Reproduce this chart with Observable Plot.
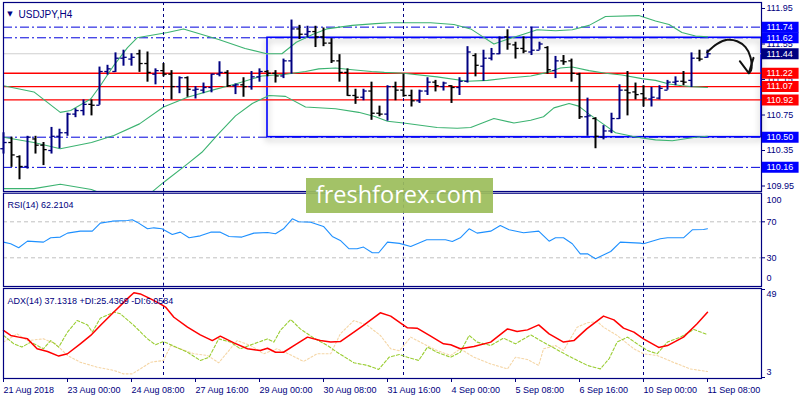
<!DOCTYPE html>
<html><head><meta charset="utf-8">
<script src="https://cdn.jsdelivr.net/npm/d3@7"></script>
<script src="https://cdn.jsdelivr.net/npm/@observablehq/plot@0.6"></script>
<style>
html,body{margin:0;padding:0;background:#fff;}
#chart{position:relative;width:800px;height:400px;overflow:hidden;background:#fff;}
#chart svg{position:absolute;left:0;}
#wm{position:absolute;left:305.7px;top:177.7px;width:187px;height:35px;background:rgba(156,189,91,0.93);color:#fff;
 font-family:"Open Sans",sans-serif;font-size:23.5px;line-height:33px;text-align:center;white-space:nowrap;}
</style></head><body><div id="chart"></div><script>
// ---------- data ----------
const symbolTitle = "USDJPY,H4";
const rsiTitle = "RSI(14) 62.2104";
const adxTitle = "ADX(14) 37.1318 +DI:25.4369 -DI:6.0584";
const watermark = "freshforex.com";

const open  = [110.37,110.44,110.28,110.17,110.48,110.41,110.35,110.51,110.55,110.76,110.80,110.87,110.86,111.24,111.24,111.39,111.38,111.44,111.33,111.21,111.25,111.21,111.07,111.17,111.03,111.03,111.06,111.21,111.23,111.08,111.09,111.07,111.18,111.24,111.22,111.19,111.36,111.72,111.66,111.69,111.63,111.56,111.36,111.23,110.97,110.95,111.02,110.77,110.76,111.07,111.03,110.97,110.91,111.02,111.12,111.07,111.08,111.06,111.13,111.42,111.30,111.39,111.44,111.63,111.54,111.50,111.46,111.48,111.51,111.25,111.36,111.36,111.21,110.73,110.71,110.50,110.57,110.71,111.03,111.01,110.99,110.93,110.94,111.03,111.12,111.13,111.14,111.39,111.40];
const high  = [110.55,110.50,110.29,110.51,110.51,110.44,110.61,110.59,110.77,110.82,110.92,110.92,111.29,111.31,111.45,111.48,111.44,111.48,111.46,111.27,111.33,111.25,111.18,111.18,111.07,111.11,111.21,111.35,111.25,111.10,111.17,111.24,111.27,111.25,111.25,111.38,111.82,111.76,111.75,111.75,111.73,111.61,111.43,111.27,111.04,111.04,111.12,110.85,111.08,111.12,111.21,111.03,111.03,111.17,111.14,111.12,111.08,111.17,111.52,111.44,111.48,111.50,111.63,111.71,111.57,111.63,111.74,111.57,111.52,111.41,111.42,111.38,111.22,110.94,110.72,110.63,110.77,111.09,111.24,111.11,111.08,111.06,111.08,111.14,111.18,111.24,111.45,111.48,111.48];
const low   = [110.31,110.16,110.02,110.14,110.31,110.18,110.31,110.37,110.51,110.72,110.74,110.74,110.86,111.20,111.23,111.30,111.30,111.23,111.12,111.09,111.18,110.92,110.99,110.95,110.93,110.99,111.00,111.18,111.06,110.98,110.95,111.03,111.12,111.18,111.11,111.16,111.21,111.60,111.62,111.51,111.52,111.33,111.12,110.96,110.87,110.91,110.69,110.73,110.68,110.91,110.95,110.84,110.88,110.97,111.01,111.02,110.88,110.97,111.11,111.18,111.13,111.36,111.43,111.48,111.38,111.44,111.42,111.48,111.21,111.16,111.31,111.12,110.70,110.51,110.37,110.47,110.54,110.70,110.74,110.92,110.84,110.84,110.92,111.03,111.08,111.08,111.06,111.35,111.39];
const close = [110.44,110.30,110.17,110.50,110.41,110.36,110.51,110.55,110.76,110.80,110.87,110.86,111.24,111.27,111.39,111.40,111.40,111.33,111.23,111.25,111.21,111.07,111.17,111.04,111.04,111.06,111.21,111.23,111.08,111.09,111.07,111.18,111.24,111.22,111.19,111.36,111.72,111.66,111.69,111.63,111.56,111.36,111.23,110.97,110.95,111.02,110.77,110.76,111.07,111.03,110.97,110.91,111.02,111.12,111.08,111.11,111.06,111.13,111.46,111.31,111.39,111.44,111.62,111.55,111.50,111.47,111.48,111.55,111.26,111.36,111.35,111.22,110.73,110.74,110.51,110.57,110.71,111.03,111.00,110.98,110.94,110.95,111.05,111.12,111.13,111.12,111.39,111.38,111.44];

// Bollinger bands: [bar, price]
const bbUpper = [[0,111.08],[3.8,111.01],[7.1,110.78],[8.4,110.80],[10.9,110.93],[12.1,111.08],[13.8,111.31],[15.5,111.51],[16.7,111.62],[20.5,111.68],[22.5,111.72],[26.9,111.60],[30.2,111.50],[32.9,111.44],[34.8,111.44],[36.6,111.57],[38.7,111.66],[40.4,111.72],[43.6,111.76],[46.5,111.78],[48.4,111.79],[53.4,111.79],[56.3,111.77],[58.4,111.72],[59.6,111.65],[61.3,111.55],[62.9,111.60],[65,111.66],[66.7,111.71],[69,111.70],[71.1,111.71],[73.2,111.76],[75.25,111.86],[79.4,111.87],[81.5,111.81],[83.2,111.77],[84.8,111.68],[86.5,111.64],[88,111.63]];
const bbMiddle = [[0,110.50],[3.8,110.44],[7.1,110.37],[11,110.44],[13.8,110.52],[17,110.65],[20,110.84],[23,110.95],[26.1,111.03],[29,111.10],[32.3,111.19],[35.25,111.21],[37.75,111.24],[39.4,111.27],[41.5,111.28],[43.6,111.26],[46,111.24],[47.6,111.23],[50,111.22],[54.2,111.18],[58,111.13],[60.5,111.14],[63.4,111.17],[65.9,111.19],[68,111.23],[69.6,111.28],[71.1,111.29],[73.2,111.25],[75.25,111.22],[77.3,111.20],[79.8,111.16],[81.5,111.14],[83.2,111.10],[84.8,111.08],[86,111.07],[88,111.06]];
const bbLower = [[0,109.92],[3.8,109.92],[7.1,109.97],[11,109.91],[13,109.84],[18,109.84],[18.8,109.90],[20,109.99],[23,110.20],[24.8,110.33],[26.9,110.54],[29,110.74],[31.1,110.88],[33.2,110.97],[35.25,110.96],[37.75,110.84],[41.5,110.82],[44.4,110.78],[46.5,110.73],[48,110.68],[50,110.66],[54.2,110.61],[56.7,110.60],[58.4,110.61],[61.3,110.71],[63.8,110.66],[65.9,110.69],[67.5,110.73],[68.8,110.83],[70.7,110.88],[71.9,110.85],[73.2,110.76],[75.25,110.63],[76.5,110.55],[78.6,110.51],[79.8,110.49],[81.5,110.47],[83.6,110.46],[86.5,110.50],[88,110.51]];

// horizontal levels and box
const dashDotLevels = [111.74, 111.62, 110.50, 110.16];
const redLevels = [111.22, 111.07, 110.92];
const bidLevel = [111.44];
const boxes = [{start: 33, low: 110.50, high: 111.62}];
const badgeLevels = [111.74, 111.62, 111.44, 111.22, 111.07, 110.92, 110.50, 110.16];
const priceTicks = [111.95, 111.55, 111.15, 110.75, 110.35, 109.95];
const weekSeparators = [20, 50, 80];

// hand drawn arrow [bar, price]
const arrowPath = [[87.96,111.457],[89.21,111.552],[90.46,111.597],[91.71,111.581],[92.75,111.514],[93.375,111.401],[93.44,111.251],[93.16,111.221]];
const arrowHead = [[92.04,111.356],[93.16,111.221],[93.75,111.394]];

// RSI(14): [bar, value]
const rsi = [[0,47.4],[0.9,45.6],[1.9,41.1],[3,48.5],[5,47.4],[5.9,52.2],[7.1,53.0],[8,57.4],[9.6,59.6],[11.1,59.6],[12.1,68.5],[13.6,70.7],[15.5,71.5],[16.1,72.2],[16.7,69.6],[18,62.2],[18.8,63.3],[19.8,62.2],[21.1,55.9],[22.1,58.5],[23.2,52.2],[24.6,54.4],[25.9,58.5],[27.1,58.5],[28.2,53.7],[29.8,53.0],[31.3,57.4],[33,58.1],[34,56.7],[35,62.2],[36.1,73.3],[36.9,70.0],[38.4,69.6],[40,64.8],[41.1,53.7],[42.1,49.3],[43.2,40.0],[44.2,40.0],[45,41.9],[46.1,35.6],[46.9,35.6],[48,47.4],[49.5,46.0],[50.9,42.6],[52.9,50.0],[55.25,50.0],[56.1,48.1],[57.1,52.2],[58.2,62.2],[59.2,57.4],[60.9,59.6],[62.1,65.9],[63.2,61.1],[65,57.8],[66.9,59.6],[68.2,48.5],[69,52.2],[70,52.2],[71.1,45.6],[72.1,34.4],[73,34.4],[74,28.9],[75.9,37.0],[77.1,47.4],[79.6,46.3],[80,45.6],[82.1,51.1],[83,52.2],[85,52.2],[86.1,61.1],[87.5,61.5],[88,62.2]];
const rsiLevels = [70, 30];

// ADX(14), +DI, -DI: [bar, value]
const adx = [[0,27.6],[0.9,25.0],[1.9,24.1],[3,23.2],[4.2,18.0],[5.5,16.6],[6.9,14.2],[8,15.4],[9.6,20.6],[10.9,25.0],[12.1,30.2],[13.8,37.2],[15.7,45.0],[16.3,47.3],[17.1,46.7],[18.4,44.1],[19.8,41.0],[20.25,39.8],[21.3,34.5],[23,29.3],[24.6,25.3],[26.1,22.3],[27.1,24.6],[28.8,21.1],[30.5,18.0],[32.1,17.1],[33,18.3],[34,16.2],[35,16.2],[36.3,19.7],[38,24.1],[39.6,22.3],[40.9,21.5],[42.1,21.8],[43.8,26.7],[45,30.2],[47.1,36.8],[48.4,35.1],[49.6,31.5],[50.5,29.0],[51.7,28.8],[53.4,24.6],[55,20.6],[55.9,20.1],[57.1,18.0],[58.8,19.2],[60.9,21.5],[63,28.4],[64.2,27.0],[65.5,27.9],[66.9,30.5],[68.2,25.8],[70,21.5],[71.3,22.3],[72.9,28.4],[75,35.1],[76.3,33.1],[77.5,28.8],[78.8,26.7],[80,23.2],[81.9,18.7],[83,19.7],[85,24.1],[86.7,31.1],[88,37.1]];
const plusDI = [[0,25.0],[1.3,20.6],[2.3,18.9],[3.4,21.5],[5,18.0],[5.9,22.3],[6.9,18.9],[8,26.7],[9.2,32.8],[10.5,30.5],[11.1,26.7],[12.1,34.0],[13.8,37.2],[14.6,36.3],[16.3,30.2],[18,23.2],[19,20.1],[20,21.8],[21.3,19.4],[23,16.2],[24.6,11.9],[25.7,13.6],[26.9,23.2],[28.4,21.5],[29.6,18.0],[31.3,20.6],[33,23.2],[33.8,21.5],[34.6,27.6],[35.9,33.3],[37.1,28.4],[38.8,23.6],[40.5,19.7],[41.7,16.2],[43.8,10.7],[45.5,9.3],[46.9,7.2],[48.2,13.6],[49.5,15.0],[50.5,13.6],[51.9,11.9],[53,18.9],[54.2,16.2],[55.9,13.6],[57.1,16.2],[58.2,25.0],[59.2,21.5],[60.9,19.7],[62.5,23.6],[64,20.6],[65.9,25.3],[67.1,22.3],[68.6,18.9],[70.5,14.5],[73,9.3],[74.6,7.5],[75.7,12.8],[76.7,21.5],[78,24.1],[79.2,20.6],[80.5,17.1],[81.7,15.4],[83,21.5],[84.6,24.1],[86.3,28.1],[88,25.4]];
const minusDI = [[0,21.5],[1.7,25.8],[3,22.3],[5,23.2],[6.5,20.6],[8,14.5],[9.6,11.0],[11.7,8.4],[13.8,6.7],[15,4.9],[16.1,4.9],[17.1,7.5],[18.4,11.0],[20,11.9],[20.9,19.7],[22.1,18.0],[23.8,15.4],[25.5,14.5],[26.9,10.7],[28,16.2],[29.2,22.3],[30.9,19.7],[32.5,15.4],[34.2,18.0],[35.9,14.8],[37.5,11.4],[39.2,15.4],[40.9,15.4],[42.1,25.8],[43.8,32.8],[45.5,30.2],[47.1,25.0],[48.4,18.0],[49.5,17.0],[50.9,24.1],[52.5,20.6],[54.2,17.1],[55.9,14.5],[57.1,18.0],[58.8,13.6],[60.9,10.1],[63,7.5],[64,13.6],[65.5,12.4],[66.9,9.3],[67.5,18.0],[69,19.7],[70,17.1],[71.7,29.3],[73,31.6],[74.2,32.3],[75,29.3],[76.7,25.0],[78.8,18.0],[80,15.4],[81.7,14.5],[83.7,11.0],[85.8,7.5],[88,6.1]];
const adxScaleLabels = [49, 3];

// time axis
const timeTickBars = [0,8,16,24,32,40,48,56,64,72,80,88];
const timeTickLabels = ["21 Aug 2018","23 Aug 00:00","24 Aug 08:00","27 Aug 16:00","29 Aug 00:00","30 Aug 08:00","31 Aug 16:00","4 Sep 00:00","5 Sep 08:00","6 Sep 16:00","10 Sep 00:00","11 Sep 08:00"];

// ---------- drawing ----------
const XMAX = 94.75;
const NAVY = "#000080";
const baseStyle = {background: "transparent", color: NAVY, fontFamily: "'Liberation Sans', Arial, sans-serif", fontSize: "9px"};
const chart = document.getElementById("chart");

const bars = open.map((o, i) => ({i, o, h: high[i], l: low[i], c: close[i]}));
const barColor = d => d.c > d.o ? NAVY : "#000000";
const badgeColor = v => v === 111.44 ? NAVY : (redLevels.includes(v) ? "#ff0000" : "#0000ff");
const px = d => d[0], py = d => d[1];

const main = Plot.plot({
  width: 800, height: 192,
  marginLeft: 3, marginRight: 39, marginTop: 2, marginBottom: 1,
  x: {domain: [0, XMAX], axis: null},
  y: {domain: [109.95, 111.95], range: [185.5, 8.0]},
  style: {...baseStyle, overflow: "hidden"},
  marks: [
    Plot.ruleY(dashDotLevels, {y: d => d, stroke: "#0000dd", strokeWidth: 1, strokeDasharray: "9,3,2,3"}),
    Plot.rect(boxes, {x1: "start", x2: () => XMAX, y1: "low", y2: "high", fill: "none", stroke: "#0000ff", strokeWidth: 1.6}),
    Plot.ruleY(bidLevel, {y: d => d, stroke: "#cfcfcf", strokeWidth: 1}),
    Plot.ruleY(redLevels, {y: d => d, stroke: "#ff0000", strokeWidth: 1.4}),
    Plot.line(bbUpper, {x: px, y: py, stroke: "#3cb371", strokeWidth: 1.1, clip: true}),
    Plot.line(bbMiddle, {x: px, y: py, stroke: "#3cb371", strokeWidth: 1.1, clip: true}),
    Plot.line(bbLower, {x: px, y: py, stroke: "#3cb371", strokeWidth: 1.1, clip: true}),
    Plot.ruleX(weekSeparators, {x: d => d, stroke: NAVY, strokeDasharray: "3,3", strokeWidth: 1}),
    Plot.ruleX(bars, {x: "i", y1: "l", y2: "h", stroke: barColor, strokeWidth: 2}),
    Plot.link(bars, {x1: d => d.i - 0.4, x2: "i", y1: "o", y2: "o", stroke: barColor, strokeWidth: 1.3}),
    Plot.link(bars, {x1: "i", x2: d => d.i + 0.4, y1: "c", y2: "c", stroke: barColor, strokeWidth: 1.3}),
    Plot.line(arrowPath, {x: px, y: py, curve: "catmull-rom", stroke: "#111", strokeWidth: 2}),
    Plot.line(arrowHead, {x: px, y: py, stroke: "#111", strokeWidth: 2}),
    Plot.frame({stroke: NAVY, strokeWidth: 1.2}),
    Plot.axisY(priceTicks, {anchor: "right", tickSize: 3, tickPadding: 2, tickFormat: d => d.toFixed(2), fill: NAVY}),
    Plot.ruleY(badgeLevels, {y: d => d, x1: () => XMAX + 0.1, x2: () => XMAX + 4.7, stroke: badgeColor, strokeWidth: 11}),
    Plot.text(badgeLevels, {y: d => d, text: d => d.toFixed(2), frameAnchor: "right", dx: 5, textAnchor: "start", fill: "white"}),
    Plot.text(["▼"], {frameAnchor: "top-left", dx: 6.5, dy: 9, textAnchor: "middle", fontSize: 7, fontFamily: "DejaVu Sans", fill: NAVY}),
    Plot.text([symbolTitle], {frameAnchor: "top-left", dx: 15, dy: 8.5, textAnchor: "start", fontSize: 10, fill: NAVY})
  ]
});
main.style.top = "0px";
d3.select(main).select('g[aria-label="rect"]').style("filter", "drop-shadow(0px 3px 3px rgba(0,0,0,0.35))");
chart.appendChild(main);

const rsiPlot = Plot.plot({
  width: 800, height: 95,
  marginLeft: 3, marginRight: 39, marginTop: 0.7, marginBottom: 1,
  x: {domain: [0, XMAX], axis: null},
  y: {domain: [0, 100], range: [92.3, 2.3]},
  style: {...baseStyle, overflow: "visible"},
  marks: [
    Plot.ruleY(rsiLevels, {y: d => d, stroke: "#c0c0c0", strokeDasharray: "4,3"}),
    Plot.ruleX(weekSeparators, {x: d => d, stroke: NAVY, strokeDasharray: "3,3", strokeWidth: 1}),
    Plot.line(rsi, {x: px, y: py, stroke: "#1e90ff", strokeWidth: 1.1}),
    Plot.frame({stroke: NAVY, strokeWidth: 1.2}),
    Plot.axisY(rsiLevels, {anchor: "right", tickSize: 3, tickPadding: 2, fill: NAVY}),
    Plot.text([100], {y: d => d, frameAnchor: "right", dx: 5, dy: 5.7, textAnchor: "start", fill: NAVY}),
    Plot.text([0], {y: d => d, frameAnchor: "right", dx: 5, dy: -6.3, textAnchor: "start", fill: NAVY}),
    Plot.text([rsiTitle], {frameAnchor: "top-left", dx: 4, dy: 8.3, textAnchor: "start", fill: NAVY})
  ]
});
rsiPlot.style.top = "192px";
chart.appendChild(rsiPlot);

const adxPlot = Plot.plot({
  width: 800, height: 113,
  marginLeft: 3, marginRight: 39, marginTop: 1, marginBottom: 22,
  x: {domain: [0, XMAX]},
  y: {domain: [3, 49], range: [90, 2]},
  style: {...baseStyle, overflow: "visible"},
  marks: [
    Plot.ruleX(weekSeparators, {x: d => d, stroke: NAVY, strokeDasharray: "3,3", strokeWidth: 1}),
    Plot.line(minusDI, {x: px, y: py, stroke: "#f5d6a6", strokeWidth: 1.1, strokeDasharray: "2,2"}),
    Plot.line(plusDI, {x: px, y: py, stroke: "#9acd32", strokeWidth: 1.1, strokeDasharray: "3,2"}),
    Plot.line(adx, {x: px, y: py, stroke: "#ff0000", strokeWidth: 1.5}),
    Plot.frame({stroke: NAVY, strokeWidth: 1.2}),
    Plot.axisX(timeTickBars, {anchor: "bottom", tickSize: 4, tickPadding: 4, textAnchor: "start", tickFormat: d => timeTickLabels[timeTickBars.indexOf(d)], fill: NAVY}),
    Plot.axisY(adxScaleLabels, {anchor: "right", tickSize: 3, tickPadding: 2, text: null, fill: NAVY}),
    Plot.text([49], {y: d => d, frameAnchor: "right", dx: 5, dy: 5, textAnchor: "start", fill: NAVY}),
    Plot.text([3], {y: d => d, frameAnchor: "right", dx: 5, dy: -5, textAnchor: "start", fill: NAVY}),
    Plot.text([adxTitle], {frameAnchor: "top-left", dx: 4, dy: 9, textAnchor: "start", fill: NAVY})
  ]
});
adxPlot.style.top = "287px";
chart.appendChild(adxPlot);

const wm = document.createElement("div");
wm.id = "wm";
wm.textContent = watermark;
chart.appendChild(wm);
</script></body></html>
